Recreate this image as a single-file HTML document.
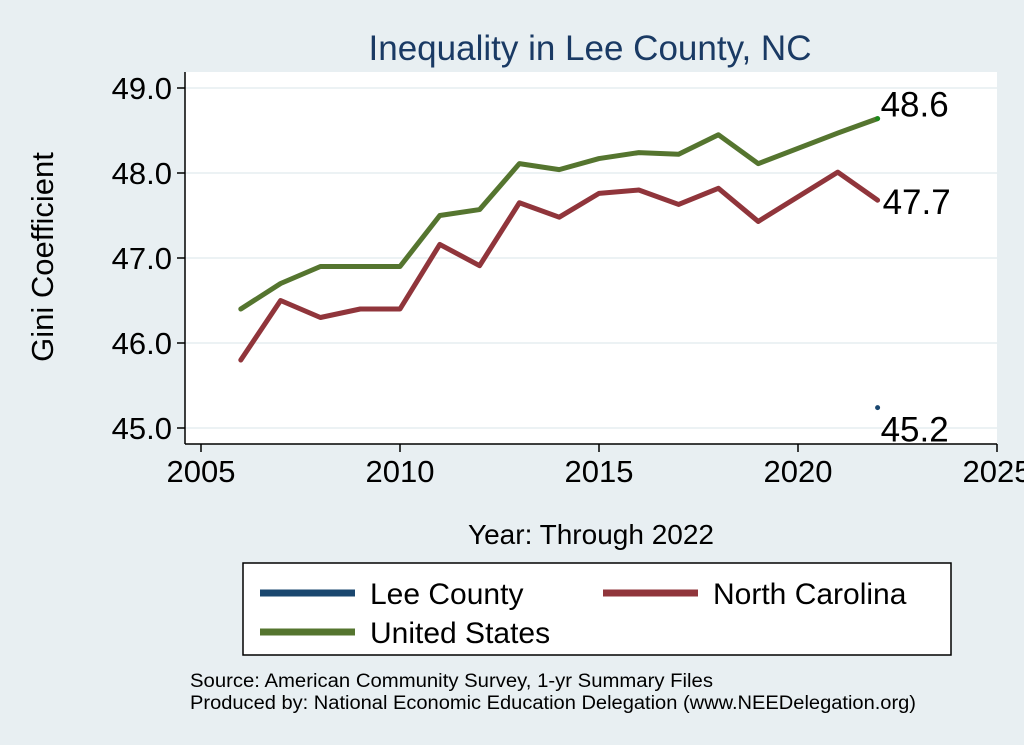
<!DOCTYPE html>
<html><head><meta charset="utf-8"><style>
body{margin:0;background:#e8eff2;}
svg{display:block;font-family:"Liberation Sans",Arial,sans-serif;}
</style></head><body>
<svg id="chart" width="1024" height="745" xmlns="http://www.w3.org/2000/svg">
<rect x="0" y="0" width="1024" height="745" fill="#e8eff2"/>
<rect x="185" y="72" width="812" height="372" fill="#ffffff"/>
<text x="590" y="60" text-anchor="middle" font-size="35" fill="#1a3a64">Inequality in Lee County, NC</text>
<text transform="translate(53,257) rotate(-90)" text-anchor="middle" font-size="31" fill="#000">Gini Coefficient</text>
<text x="591" y="544" text-anchor="middle" font-size="28" fill="#000">Year: Through 2022</text>
<g id="grid"></g><g id="axes"></g><g id="series"></g>
<g>
<rect x="243" y="563" width="708" height="92" fill="#fff" stroke="#000" stroke-width="1.5"/>
<line x1="260" y1="593" x2="355" y2="593" stroke="#1a476f" stroke-width="7"/>
<text x="370" y="604" font-size="30">Lee County</text>
<line x1="603" y1="593" x2="698" y2="593" stroke="#90353b" stroke-width="7"/>
<text x="713" y="604" font-size="30">North Carolina</text>
<line x1="260" y1="632" x2="355" y2="632" stroke="#55752f" stroke-width="7"/>
<text x="370" y="643" font-size="30">United States</text>
</g>
<text x="190" y="687" font-size="19" textLength="523" lengthAdjust="spacingAndGlyphs">Source: American Community Survey, 1-yr Summary Files</text>
<text x="190" y="709" font-size="19" textLength="726" lengthAdjust="spacingAndGlyphs">Produced by: National Economic Education Delegation (www.NEEDelegation.org)</text>
</svg>
<script>
const years=[2006,2007,2008,2009,2010,2011,2012,2013,2014,2015,2016,2017,2018,2019,2021,2022];
const usValues=[46.4,46.7,46.9,46.9,46.9,47.5,47.57,48.11,48.04,48.17,48.24,48.22,48.45,48.11,48.47,48.64];
const ncValues=[45.8,46.5,46.3,46.4,46.4,47.16,46.91,47.65,47.48,47.76,47.8,47.63,47.82,47.43,48.01,47.68];
const leeYears=[2022];
const leeValues=[45.24];
const xTicks=[2005,2010,2015,2020,2025];
const yTicks=[45,46,47,48,49];
const NS='http://www.w3.org/2000/svg';
const X=v=>201+(v-2005)*39.8;
const Y=v=>88+(49-v)*85;
function mk(tag,attrs,parent){const e=document.createElementNS(NS,tag);for(const k in attrs)e.setAttribute(k,attrs[k]);parent.appendChild(e);return e;}
const grid=document.getElementById('grid'),axes=document.getElementById('axes'),ser=document.getElementById('series');
yTicks.forEach(t=>{
 const g=mk('line',{x1:185,x2:997,y1:Y(t),y2:Y(t),stroke:'#e6eef1','stroke-width':1.5},grid);
 
 
 mk('line',{x1:177,x2:185,y1:Y(t),y2:Y(t),stroke:'#000','stroke-width':1.5},axes);
 const l=mk('text',{x:172,y:Y(t)+11,'text-anchor':'end','font-size':31},axes);l.textContent=t.toFixed(1);
 
 
});
xTicks.forEach(t=>{
 mk('line',{x1:X(t),x2:X(t),y1:444,y2:452,stroke:'#000','stroke-width':1.5},axes);
 const l=mk('text',{x:X(t),y:482,'text-anchor':'middle','font-size':31},axes);l.textContent=t;
 
 
});
mk('line',{x1:185,x2:185,y1:72,y2:444,stroke:'#000','stroke-width':1.5},axes);
mk('line',{x1:185,x2:997,y1:444,y2:444,stroke:'#000','stroke-width':1.5},axes);
function line(vals,color,name){
 const p=mk('polyline',{points:years.map((y,i)=>X(y)+','+Y(vals[i])).join(' '),fill:'none',stroke:color,'stroke-width':5,'stroke-linejoin':'round','stroke-linecap':'round'},ser);
 
 
}
line(usValues,'#55752f','us-line');
line(ncValues,'#90353b','nc-line');
const n=years.length-1;
const ud=mk('circle',{cx:X(years[n]),cy:Y(usValues[n]),r:2.5,fill:'#1a8a1a'},ser);


leeValues.forEach((v,i)=>{
 const c=mk('circle',{cx:X(leeYears[i]),cy:Y(v),r:2.5,fill:'#1a476f'},ser);
 
 
});
function lab(x,y,txt,name){const t=mk('text',{x:x,y:y,'font-size':35},ser);t.textContent=txt;
 
 }
lab(X(years[n])+3,Y(usValues[n])-2,usValues[n].toFixed(1),'us-value-label');
lab(X(years[n])+5,Y(ncValues[n])+14,ncValues[n].toFixed(1),'nc-value-label');
lab(X(leeYears[0])+3,Y(leeValues[0])+34,leeValues[0].toFixed(1),'lee-value-label');
</script>
</body></html>
